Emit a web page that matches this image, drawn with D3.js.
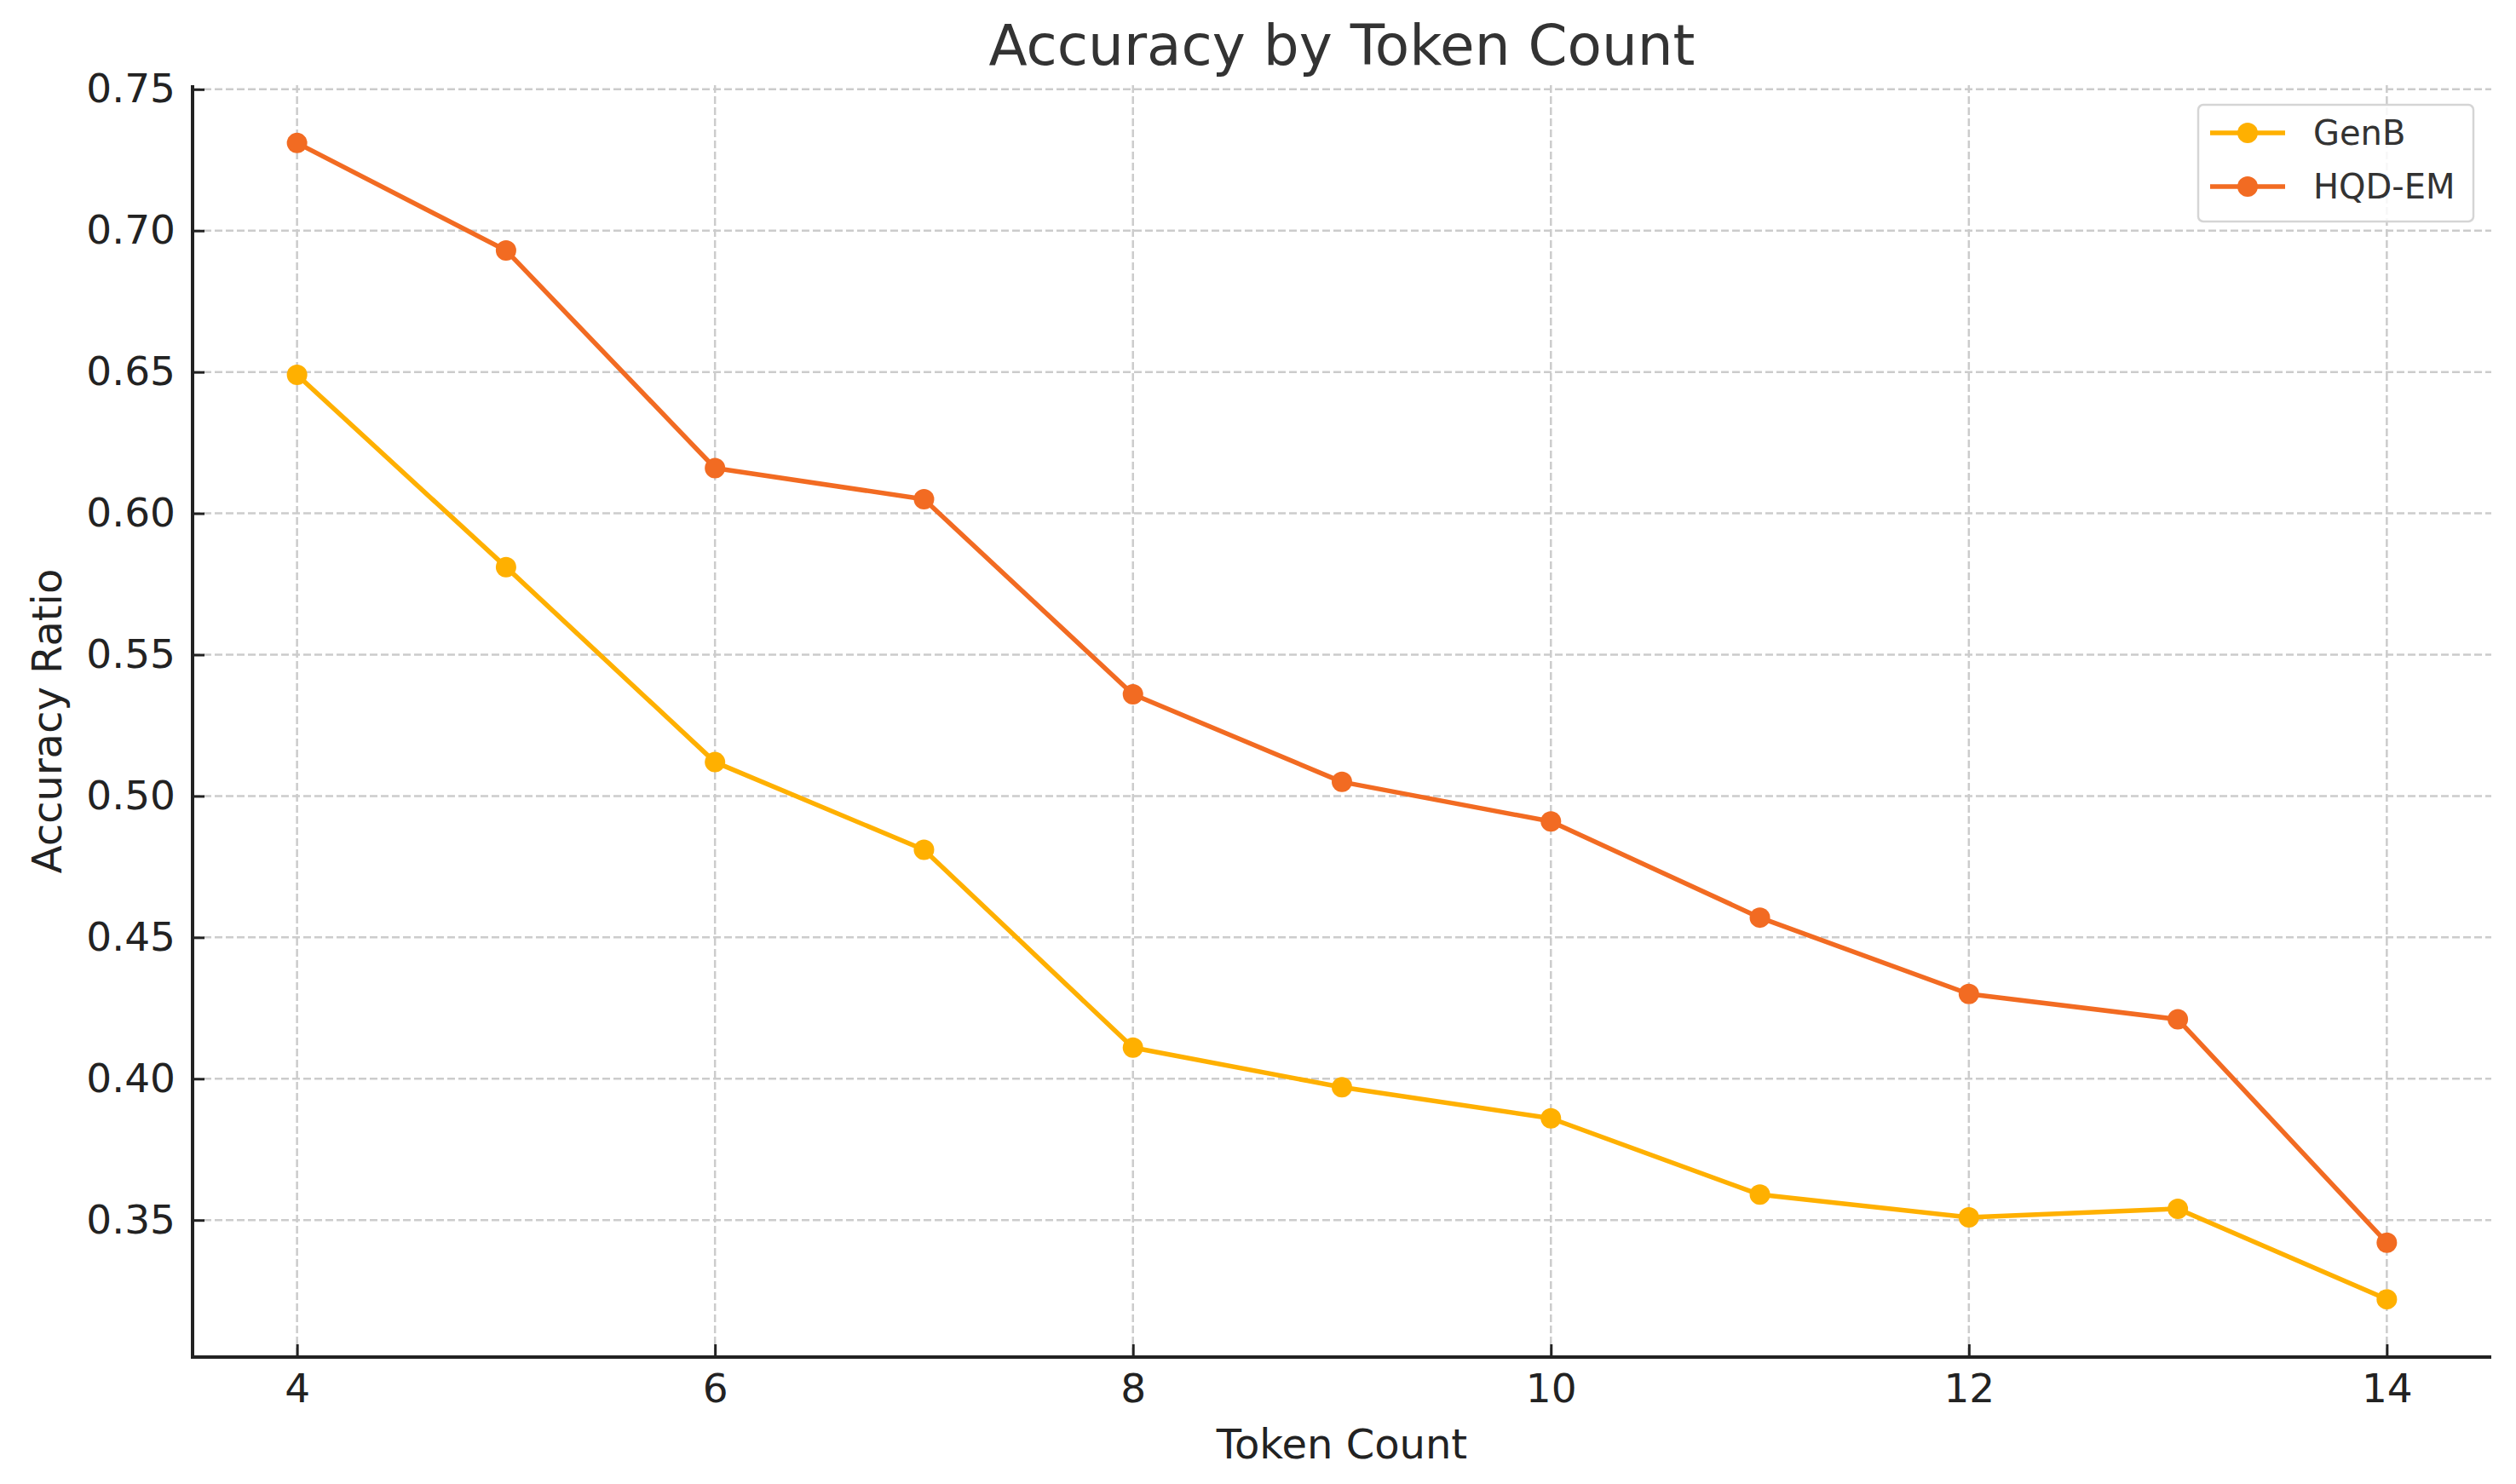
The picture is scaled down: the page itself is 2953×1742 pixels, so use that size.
<!DOCTYPE html>
<html>
<head>
<meta charset="utf-8">
<script src="https://cdn.jsdelivr.net/npm/d3@7"></script>
<style>
  body { margin: 0; background: #fff; }
  svg { display: block; font-family: "DejaVu Sans", sans-serif; }
</style>
</head>
<body>
<svg id="chart" width="2953" height="1742"></svg>
<script>
// token counts on the x axis
const tokenCounts = [4, 5, 6, 7, 8, 9, 10, 11, 12, 13, 14];

// accuracy ratio per series
const genB = [0.649, 0.581, 0.512, 0.481, 0.411, 0.397, 0.386, 0.359, 0.351, 0.354, 0.322];
const hqdEm = [0.731, 0.693, 0.616, 0.605, 0.536, 0.505, 0.491, 0.457, 0.430, 0.421, 0.342];

const seriesNames = ["GenB", "HQD-EM"];
const seriesColors = ["#ffb000", "#f26b22"];

const xTicks = [4, 6, 8, 10, 12, 14];
const yTicks = [0.35, 0.40, 0.45, 0.50, 0.55, 0.60, 0.65, 0.70, 0.75];

const svg = d3.select("#chart");
const plotLeft = 226, plotRight = 2924, plotTop = 100, plotBottom = 1593;

const series = [genB, hqdEm].map((vals, i) => ({
  name: seriesNames[i],
  color: seriesColors[i],
  points: tokenCounts.map((t, j) => ({ x: t, y: vals[j] }))
}));

// matplotlib style 5% padding
const allY = genB.concat(hqdEm);
const [yMin, yMax] = d3.extent(allY);
const pad = (yMax - yMin) * 0.05;

const x = d3.scaleLinear().domain([3.5, 14.5]).range([plotLeft, plotRight]);
const y = d3.scaleLinear().domain([yMin - pad, yMax + pad]).range([plotBottom, plotTop]);

// grid
const grid = svg.append("g").attr("stroke", "#cccccc").attr("stroke-width", 2.5)
  .attr("stroke-dasharray", "9,4");
grid.selectAll(".vg").data(xTicks).enter().append("line")
  .attr("x1", d => x(d)).attr("x2", d => x(d)).attr("y1", plotTop).attr("y2", plotBottom);
grid.selectAll(".hg").data(yTicks).enter().append("line")
  .attr("x1", plotLeft).attr("x2", plotRight).attr("y1", d => y(d)).attr("y2", d => y(d));

// axes, ticks pointing inward
const xAxis = d3.axisBottom(x).tickValues(xTicks).tickSize(-15).tickPadding(20)
  .tickFormat(d3.format("d"));
const yAxis = d3.axisLeft(y).tickValues(yTicks).tickSize(-14).tickPadding(20)
  .tickFormat(d3.format(".2f"));

const gx = svg.append("g").attr("transform", `translate(0,${plotBottom})`).call(xAxis);
const gy = svg.append("g").attr("transform", `translate(${plotLeft},0)`).call(yAxis);

[gx, gy].forEach(g => {
  g.select(".domain").remove();
  g.selectAll(".tick line").attr("stroke", "#222").attr("stroke-width", 3);
  g.selectAll(".tick text").attr("fill", "#222").attr("font-size", 47)
    .attr("font-family", "DejaVu Sans");
});
gx.selectAll(".tick text").attr("y", 20).attr("dy", "0.71em");
gy.selectAll(".tick text").attr("x", -20);

// spines (left + bottom only)
svg.append("line").attr("x1", plotLeft).attr("x2", plotLeft).attr("y1", plotTop).attr("y2", plotBottom + 2)
  .attr("stroke", "#222").attr("stroke-width", 4);
svg.append("line").attr("x1", plotLeft - 2).attr("x2", plotRight).attr("y1", plotBottom).attr("y2", plotBottom)
  .attr("stroke", "#222").attr("stroke-width", 4);

// lines and markers
const line = d3.line().x(d => x(d.x)).y(d => y(d.y));
series.forEach(s => {
  svg.append("path").datum(s.points).attr("d", line)
    .attr("fill", "none").attr("stroke", s.color).attr("stroke-width", 5.5)
    .attr("stroke-linejoin", "round");
  svg.selectAll(null).data(s.points).enter().append("circle")
    .attr("cx", d => x(d.x)).attr("cy", d => y(d.y)).attr("r", 12)
    .attr("fill", s.color);
});

// title and axis labels
svg.append("text").attr("x", (plotLeft + plotRight) / 2).attr("y", 76)
  .attr("text-anchor", "middle").attr("font-size", 66).attr("fill", "#333")
  .text("Accuracy by Token Count");
svg.append("text").attr("x", (plotLeft + plotRight) / 2).attr("y", 1712)
  .attr("text-anchor", "middle").attr("font-size", 48).attr("fill", "#222")
  .text("Token Count");
svg.append("text").attr("transform", `translate(72,${(plotTop + plotBottom) / 2}) rotate(-90)`)
  .attr("text-anchor", "middle").attr("font-size", 48).attr("fill", "#222")
  .text("Accuracy Ratio");

// legend
const lg = svg.append("g");
lg.append("rect").attr("x", 2580).attr("y", 123).attr("width", 323).attr("height", 137)
  .attr("rx", 6).attr("fill", "#fff").attr("fill-opacity", 0.85)
  .attr("stroke", "#d5d5d5").attr("stroke-width", 2.5);
series.forEach((s, i) => {
  const ly = 156 + i * 63;
  lg.append("line").attr("x1", 2594).attr("x2", 2682).attr("y1", ly).attr("y2", ly)
    .attr("stroke", s.color).attr("stroke-width", 5.5);
  lg.append("circle").attr("cx", 2638).attr("cy", ly).attr("r", 12).attr("fill", s.color);
  lg.append("text").attr("x", 2715).attr("y", ly).attr("dy", "0.36em")
    .attr("font-size", 40).attr("fill", "#333").text(s.name);
});
</script>
</body>
</html>
